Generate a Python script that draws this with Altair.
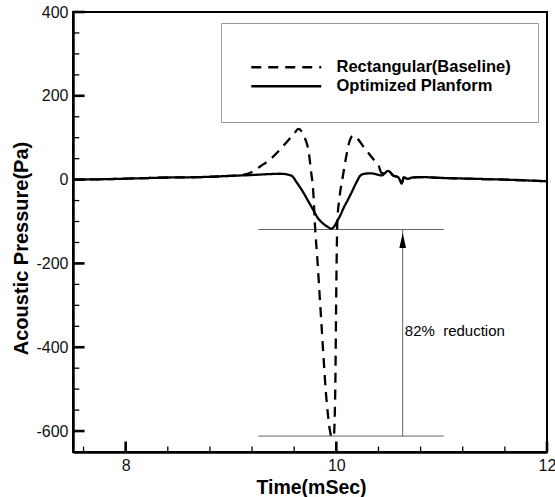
import altair as alt
import pandas as pd

FONT = "Liberation Sans"

series_names = ["Rectangular(Baseline)", "Optimized Planform"]

# Optimized planform (solid)
opt_t = [7.5, 7.8, 8.1, 8.4, 8.7, 9.0, 9.2, 9.35, 9.47, 9.57, 9.63, 9.68, 9.73, 9.78,
         9.82, 9.87, 9.92, 9.95, 9.98, 10.01, 10.04, 10.07, 10.11, 10.14, 10.19, 10.23,
         10.27, 10.32, 10.36, 10.43, 10.46, 10.49, 10.54, 10.59, 10.62, 10.64, 10.68,
         10.72, 10.81, 11.0, 11.3, 11.6, 12.0]
opt_p = [0, 1, 3, 5, 6, 9, 11, 13, 14, 10, -9, -28, -50, -72,
         -90, -104, -113, -117, -112, -98, -84, -67, -48, -33, -7, 10,
         14, 15, 14, 10, 15, 21, 10, 5, -9, 5, 2,
         5, 6, 4, 2, 0, -4]

# Rectangular baseline (dashed)
rect_t = [7.5, 7.8, 8.1, 8.4, 8.7, 9.0, 9.1, 9.19, 9.28, 9.38, 9.46, 9.54, 9.6, 9.64,
          9.69, 9.74, 9.76, 9.78, 9.8, 9.82, 9.84, 9.86, 9.88, 9.9, 9.92, 9.94, 9.955,
          9.975, 9.99, 10.0, 10.01, 10.03, 10.06, 10.09, 10.13, 10.16, 10.2, 10.25,
          10.3, 10.36, 10.4, 10.43, 10.46, 10.49, 10.54, 10.59, 10.62, 10.64, 10.68,
          10.72, 10.81, 11.0, 11.3, 11.6, 12.0]
rect_p = [0, 1, 3, 5, 6, 9, 11, 17, 32, 50, 70, 93, 110, 121,
          105, 62, 20, -26, -121, -190, -270, -350, -430, -505, -560, -600, -614,
          -614, -500, -250, -98, -43, 5, 50, 95, 105, 98, 81,
          65, 46, 34, 16, 15, 21, 10, 5, -9, 5, 2,
          5, 6, 4, 2, 0, -4]

# Axis ticks (drawn inward)
x_major = [8, 10, 12]
x_minor = [7.6, 8.0, 8.4, 8.8, 9.2, 9.6, 10.0, 10.4, 10.8, 11.2, 11.6, 12.0]
y_major = [-600, -400, -200, 0, 200, 400]
y_minor = [-650, -600, -550, -500, -450, -400, -350, -300, -250, -200, -150, -100,
           -50, 0, 50, 100, 150, 200, 250, 300, 350, 400]
x_lo, x_hi = 7.5, 12
y_lo, y_hi = -650, 400
x_minor_len, x_major_len = 13, 25       # pressure units (~5.5 / 10.5 px)
y_minor_len, y_major_len = 0.06, 0.11   # time units (~6 / 11.5 px)

# Annotation
ann_levels = [-119, -612]
ann_t0 = 9.26
ann_t1 = 11.02
arrow_t = 10.63
arrow_head_p = -145
ann_text = "82%\u00a0\u00a0reduction"
ann_text_t = 10.65
ann_text_p = -362

W, H = 474, 440

lines_df = pd.concat([
    pd.DataFrame({"t": rect_t, "p": rect_p, "series": series_names[0], "order": range(len(rect_t))}),
    pd.DataFrame({"t": opt_t, "p": opt_p, "series": series_names[1], "order": range(len(opt_t))}),
])

xs = alt.Scale(domain=[x_lo, x_hi], nice=False, zero=False)
ys = alt.Scale(domain=[y_lo, y_hi], nice=False, zero=False)

x_axis = alt.Axis(values=x_major, ticks=False, labelPadding=5, labelExpr="'' + datum.value",
                  labelFlush=False, titleX=238, titleY=41, titleBaseline="alphabetic",
                  titleFontSize=19.5)
y_axis = alt.Axis(values=y_major, ticks=False, labelPadding=5, labelExpr="'' + datum.value",
                  labelFlush=False, titleX=-46, titleY=236, titleBaseline="alphabetic",
                  titleAlign="center", titleAngle=-90, titleFontSize=20)

X = lambda f: alt.X(f, type="quantitative", scale=xs, axis=x_axis, title="Time(mSec)")
Y = lambda f: alt.Y(f, type="quantitative", scale=ys, axis=y_axis, title="Acoustic Pressure(Pa)")

lines = alt.Chart(lines_df).mark_line(strokeWidth=2.3, color="black", interpolate="monotone").encode(
    x=X("t"), y=Y("p"),
    detail="series:N",
    order="order:Q",
    strokeDash=alt.StrokeDash("series:N",
        scale=alt.Scale(domain=series_names, range=[[10, 7], [1, 0]]),
        legend=alt.Legend(orient="none", legendX=148, legendY=11, title=" ",
                          titleFontSize=6, titlePadding=3)),
)

n_xm, n_xM = len(x_minor), len(x_major)
n_ym, n_yM = len(y_minor), len(y_major)
xt_df = pd.DataFrame({"t": x_minor + x_major,
                      "p0": [y_lo] * (n_xm + n_xM),
                      "p1": [y_lo + x_minor_len] * n_xm + [y_lo + x_major_len] * n_xM,
                      "w": [1.3] * n_xm + [2.6] * n_xM})
yt_df = pd.DataFrame({"p": y_minor + y_major,
                      "t0": [x_lo] * (n_ym + n_yM),
                      "t1": [x_lo + y_minor_len] * n_ym + [x_lo + y_major_len] * n_yM,
                      "w": [1.3] * n_ym + [2.6] * n_yM})

xticks = alt.Chart(xt_df).mark_rule(color="black").encode(
    x=X("t"), y=Y("p0"), y2="p1",
    strokeWidth=alt.StrokeWidth("w:Q", scale=None, legend=None))
yticks = alt.Chart(yt_df).mark_rule(color="black").encode(
    y=Y("p"), x=X("t0"), x2="t1",
    strokeWidth=alt.StrokeWidth("w:Q", scale=None, legend=None))

hlines = alt.Chart(pd.DataFrame({"p": ann_levels, "t0": [ann_t0] * 2, "t1": [ann_t1] * 2})).mark_rule(
    color="#666", strokeWidth=1).encode(x=X("t0"), x2="t1", y=Y("p"))
vline = alt.Chart(pd.DataFrame({"t": [arrow_t], "p0": [ann_levels[1]], "p1": [ann_levels[0]]})).mark_rule(
    color="#666", strokeWidth=1).encode(x=X("t"), y=Y("p0"), y2="p1")
arrow = alt.Chart(pd.DataFrame({"t": [arrow_t], "p": [arrow_head_p]})).mark_point(
    shape="M0,-1L0.45,1L-0.45,1Z", size=225, filled=True, color="black", opacity=1).encode(
    x=X("t"), y=Y("p"))
label = alt.Chart(pd.DataFrame({"t": [ann_text_t], "p": [ann_text_p], "txt": [ann_text]})).mark_text(
    align="left", baseline="middle", fontSize=15, font=FONT, color="black").encode(
    x=X("t"), y=Y("p"), text="txt:N")

chart = alt.layer(hlines, vline, arrow, label, lines, xticks, yticks).properties(
    width=W, height=H,
    padding={"left": 73, "top": 12, "right": 8, "bottom": 45},
    autosize=alt.AutoSizeParams(type="none"),
).configure_view(stroke="black", strokeWidth=2).configure_axis(
    labelFont=FONT, labelFontSize=16, labelColor="#111",
    titleFont=FONT, titleFontSize=19, titleFontWeight="bold", titleColor="black",
    domainColor="black", domainWidth=2.5, grid=False,
).configure_legend(
    strokeColor="#999", fillColor="white", padding=27,
    symbolType="M-1,0H13", symbolSize=100, symbolStrokeColor="black", symbolStrokeWidth=2.3,
    symbolFillColor="transparent",
    labelFont=FONT, labelFontSize=16.5, labelFontWeight="bold", labelColor="black",
    labelOffset=72, rowPadding=2, labelLimit=400,
)

chart.save("out.html", embed_options={"renderer": "svg", "actions": False})
